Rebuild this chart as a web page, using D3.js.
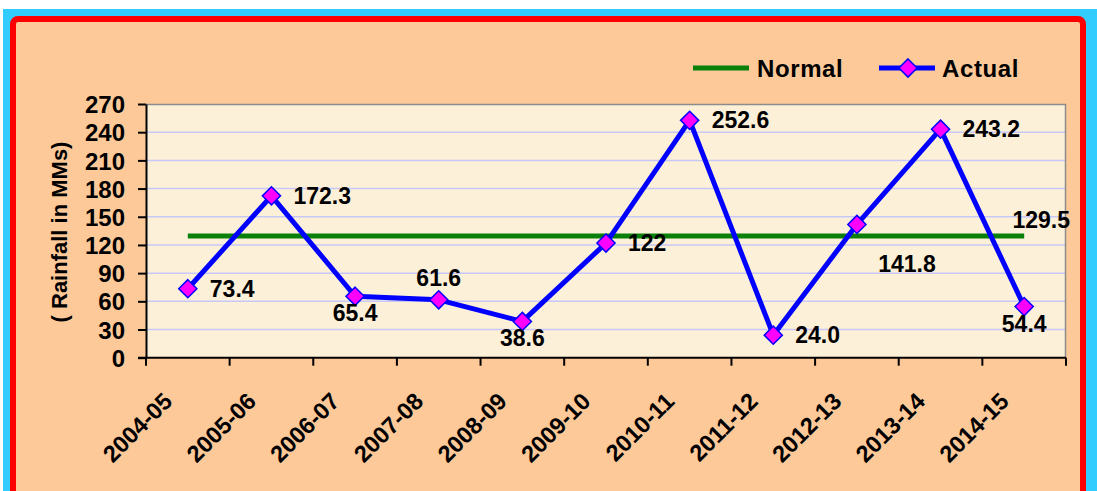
<!DOCTYPE html>
<html>
<head>
<meta charset="utf-8">
<script src="https://cdn.jsdelivr.net/npm/d3@7"></script>
<style>
  body { margin: 0; background: #ffffff; }
  text { font-family: "Liberation Sans", Arial, sans-serif; font-weight: bold; fill: #000; }
</style>
</head>
<body>
<div id="chart"></div>
<script>
// data
var years = ["2004-05", "2005-06", "2006-07", "2007-08", "2008-09", "2009-10",
             "2010-11", "2011-12", "2012-13", "2013-14", "2014-15"];
var actual = [73.4, 172.3, 65.4, 61.6, 38.6, 122, 252.6, 24.0, 141.8, 243.2, 54.4];
var actualLabels = ["73.4", "172.3", "65.4", "61.6", "38.6", "122", "252.6", "24.0", "141.8", "243.2", "54.4"];
var normal = [129.5, 129.5, 129.5, 129.5, 129.5, 129.5, 129.5, 129.5, 129.5, 129.5, 129.5];
var yTicks = [0, 30, 60, 90, 120, 150, 180, 210, 240, 270];
// where each data label sits relative to its point
var labelPlace = ["right", "right", "below", "above", "below", "right", "right", "right", "belowRight", "right", "below"];

var W = 1097, H = 491;
var margin = { top: 104, right: 31, bottom: 134, left: 146 };
var width = W - margin.left - margin.right;
var height = H - margin.top - margin.bottom + 0.7;

var svg = d3.select("#chart").append("svg")
    .attr("width", W)
    .attr("height", H);

// frame: cyan outer, red rounded border, peach fill
svg.append("rect").attr("x", 3).attr("y", 9).attr("width", W - 3).attr("height", H - 9).attr("fill", "#33ccff");
svg.append("rect")
    .attr("x", 13).attr("y", 19).attr("width", 1070).attr("height", 480)
    .attr("rx", 5).attr("ry", 5)
    .attr("fill", "#fdc998")
    .attr("stroke", "#ff0000").attr("stroke-width", 6);

var g = svg.append("g").attr("transform", "translate(" + margin.left + "," + margin.top + ")");

var x = d3.scaleBand().domain(years).range([0, width]).padding(0);
var y = d3.scaleLinear().domain([0, 270]).range([height, 0]);
var cx = function(i) { return x(years[i]) + x.bandwidth() / 2; };

// plot area
g.append("rect").attr("width", width).attr("height", height).attr("fill", "#fcf0d8");

// gridlines
g.selectAll(".grid").data(yTicks.slice(1, -1)).enter().append("line")
    .attr("x1", 0).attr("x2", width)
    .attr("y1", function(d) { return y(d); }).attr("y2", function(d) { return y(d); })
    .attr("stroke", "#c8c8f8").attr("stroke-width", 1.5);

// top and right border
g.append("path")
    .attr("d", "M0,0.5H" + (width - 0.5) + "V" + height)
    .attr("fill", "none").attr("stroke", "#8c8c8c").attr("stroke-width", 1.5);

// y axis
var yAxis = g.append("g")
    .call(d3.axisLeft(y).tickValues(yTicks).tickSize(8).tickSizeOuter(0).tickPadding(13));
yAxis.select(".domain").attr("stroke", "#000").attr("stroke-width", 2);
yAxis.selectAll(".tick line").attr("stroke", "#000").attr("stroke-width", 2);
yAxis.selectAll("text").style("font-size", "24px").attr("font-family", null).attr("dy", "0.36em");

// x axis with ticks on category boundaries
var xAxis = g.append("g").attr("transform", "translate(0," + height + ")");
xAxis.append("line").attr("x1", -8).attr("x2", width).attr("stroke", "#000").attr("stroke-width", 2);
xAxis.selectAll(".xt").data(years.concat(["end"])).enter().append("line")
    .attr("x1", function(d, i) { return i * x.bandwidth(); })
    .attr("x2", function(d, i) { return i * x.bandwidth(); })
    .attr("y1", 0).attr("y2", 8)
    .attr("stroke", "#000").attr("stroke-width", 2);
xAxis.selectAll(".xl").data(years).enter().append("text")
    .attr("transform", function(d, i) { return "translate(" + (cx(i) - 14) + ",45) rotate(-45)"; })
    .attr("text-anchor", "end")
    .style("font-size", "23.5px")
    .text(function(d) { return d; });

// y axis title
svg.append("text")
    .attr("transform", "translate(67,232) rotate(-90)")
    .attr("text-anchor", "middle")
    .style("font-size", "22px")
    .text("( Rainfall in MMs)");

// normal line
var lineNormal = d3.line().x(function(d, i) { return cx(i); }).y(function(d) { return y(d); });
g.append("path").datum(normal)
    .attr("d", lineNormal)
    .attr("fill", "none").attr("stroke", "#0a800a").attr("stroke-width", 5);

// actual line
g.append("path").datum(actual)
    .attr("d", lineNormal)
    .attr("fill", "none").attr("stroke", "#0000ff").attr("stroke-width", 5)
    .attr("stroke-linejoin", "round");

var diamond = d3.symbol().type(d3.symbolDiamond2).size(210);
g.selectAll(".pt").data(actual).enter().append("path")
    .attr("d", diamond)
    .attr("transform", function(d, i) { return "translate(" + cx(i) + "," + y(d) + ")"; })
    .attr("fill", "#ff00ff").attr("stroke", "#0000ff").attr("stroke-width", 1.5);

// data labels
var place = {
    right:      { dx: 22, dy: 8,  anchor: "start" },
    below:      { dx: 0,  dy: 25, anchor: "middle" },
    above:      { dx: 0,  dy: -14, anchor: "middle" },
    belowRight: { dx: 50, dy: 48, anchor: "middle" }
};
g.selectAll(".lbl").data(actual).enter().append("text")
    .attr("x", function(d, i) { return cx(i) + place[labelPlace[i]].dx; })
    .attr("y", function(d, i) { return y(d) + place[labelPlace[i]].dy; })
    .attr("text-anchor", function(d, i) { return place[labelPlace[i]].anchor; })
    .style("font-size", "23px")
    .text(function(d, i) { return actualLabels[i]; });

var last = normal.length - 1;
g.append("text")
    .attr("x", cx(last) + 17).attr("y", y(normal[last]) - 8)
    .attr("text-anchor", "middle")
    .style("font-size", "23px")
    .text(normal[last]);

// legend
var leg = svg.append("g");
leg.append("line").attr("x1", 693).attr("x2", 749).attr("y1", 68).attr("y2", 68)
    .attr("stroke", "#0a800a").attr("stroke-width", 5);
leg.append("text").attr("x", 757).attr("y", 77).style("font-size", "24px").style("letter-spacing", "0.6px").text("Normal");
leg.append("line").attr("x1", 879).attr("x2", 935).attr("y1", 68).attr("y2", 68)
    .attr("stroke", "#0000ff").attr("stroke-width", 5);
leg.append("path").attr("d", diamond).attr("transform", "translate(908,68)")
    .attr("fill", "#ff00ff").attr("stroke", "#0000ff").attr("stroke-width", 1.5);
leg.append("text").attr("x", 942).attr("y", 77).style("font-size", "24px").style("letter-spacing", "0.6px").text("Actual");
</script>
</body>
</html>
